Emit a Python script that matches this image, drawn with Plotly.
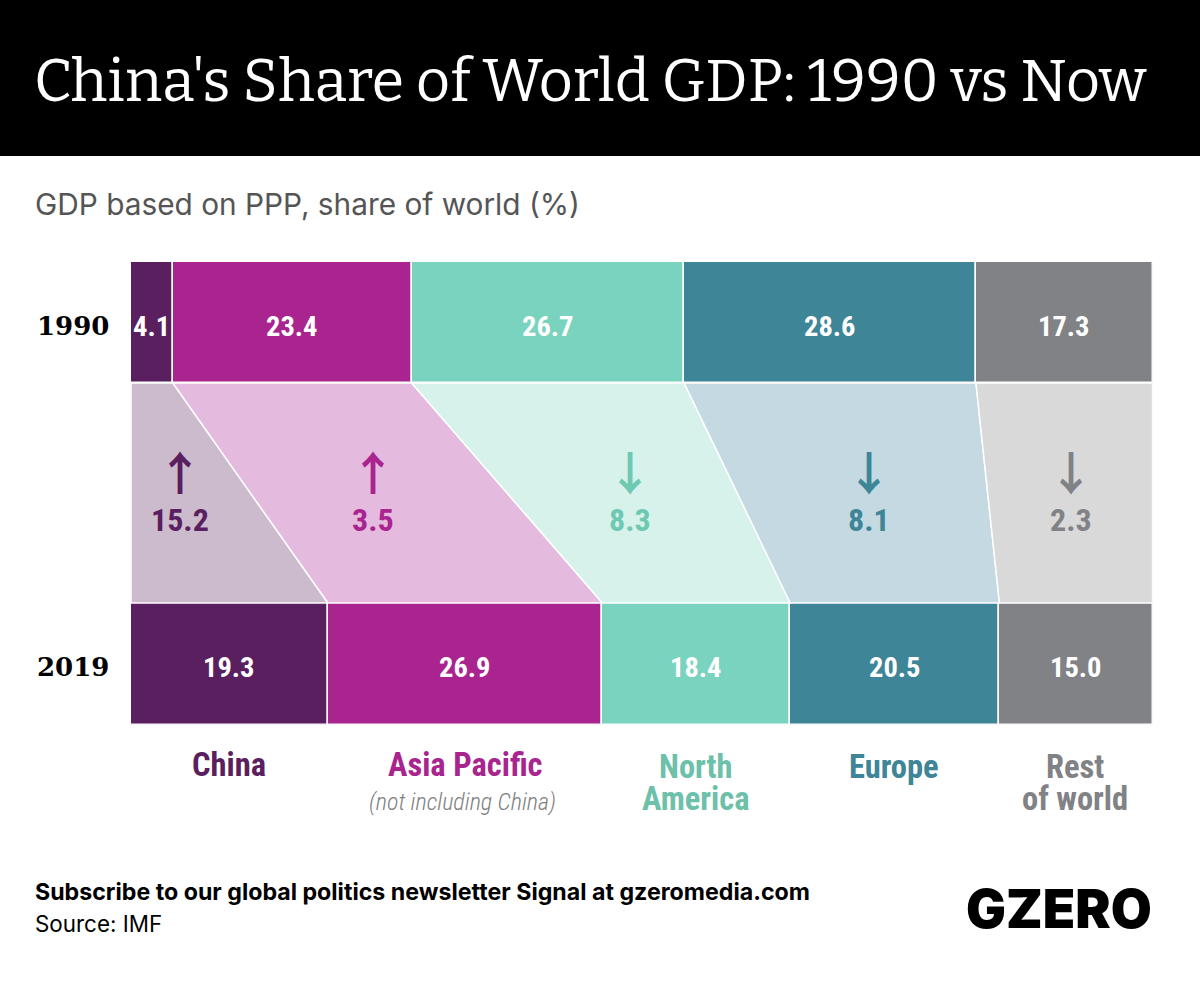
import plotly.graph_objects as go

regions = ["China", "Asia Pacific", "North America", "Europe", "Rest of world"]
share_1990 = [4.1, 23.4, 26.7, 28.6, 17.3]
share_2019 = [19.3, 26.9, 18.4, 20.5, 15.0]
changes = ["15.2", "3.5", "8.3", "8.1", "2.3"]
arrows = ["↑", "↑", "↓", "↓", "↓"]
years = ["1990", "2019"]

colors = ["#591f5e", "#a9248f", "#79d3be", "#3e8598", "#818285"]
pale = ["#ccbacd", "#e4bade", "#d7f1eb", "#c4d9e1", "#d9d9d9"]
change_colors = ["#591f5e", "#a9248f", "#6ec9b2", "#3e8598", "#818285"]
label_colors = ["#591f5e", "#a9248f", "#6dc0a9", "#3e8598", "#818285"]
label_x = [229, 465, 696, 894, 1075]  # pixels, centres of region names
change_x = [180, 373, 630, 869, 1071]

W, H = 1200, 982
X0, X1 = 131, 1152.5
Y_TOP, Y_BOT = 262, 724.5
slab = "Bitter, 'DejaVu Serif', serif"
narrow = "'Liberation Sans Narrow', 'Roboto Condensed', sans-serif"

fig = go.Figure()


def bar_label(x, y, value):
    # numbers sit a little under the middle of the bars
    fig.add_annotation(xref="x", yref="y", x=x, y=y, text=f"{value:.1f}", showarrow=False,
                       font=dict(family=narrow, size=28.5, color="white", weight="bold"))


# y axis: px from top of the chart, rows are 120 px with 220 px between
top = 0
bot = 0
for i, r in enumerate(regions):
    a0, a1 = top, round(top + share_1990[i], 1)
    b0, b1 = bot, round(bot + share_2019[i], 1)
    # band between the two years
    fig.add_trace(go.Scatter(
        x=[a0, a1, b1, b0, a0], y=[121, 121, 341, 341, 121],
        mode="lines", fill="toself", fillcolor=pale[i],
        line=dict(color="white", width=1.5), showlegend=False, hoverinfo="skip"))
    fig.add_trace(go.Bar(
        y=[60.5, 402], x=[share_1990[i], share_2019[i]], base=[a0, b0],
        orientation="h", width=121.5, name=r,
        marker=dict(color=colors[i], line=dict(color="white", width=1.5)),
        cliponaxis=False, showlegend=False))
    bar_label((a0 + a1) / 2, 64.5, share_1990[i])
    bar_label((b0 + b1) / 2, 405, share_2019[i])
    top = a1
    bot = b1

fig.update_xaxes(range=[0, max(top, bot)], domain=[X0 / W, X1 / W], visible=False, fixedrange=True)
fig.update_yaxes(range=[Y_BOT - Y_TOP, 0], domain=[1 - Y_BOT / H, 1 - Y_TOP / H], visible=False, fixedrange=True)


def note(x, y, text, size, color, family, anchor="center", weight="normal", style="normal"):
    fig.add_annotation(xref="paper", yref="paper", x=x / W, y=1 - y / H, text=text,
                       showarrow=False, xanchor=anchor, yanchor="middle",
                       font=dict(size=size, color=color, family=family, weight=weight, style=style))


fig.add_shape(type="rect", xref="paper", yref="paper", x0=0, x1=1, y0=1 - 156 / H, y1=1,
              fillcolor="black", line_width=0, layer="below")
note(32, 81, "China's Share of World GDP: 1990 vs Now", 59.15, "white", slab, "left")
note(32.5, 204, "GDP based on PPP, share of world (%)", 29.8, "#555555", "Inter", "left")
note(111, 326, years[0], 26, "black", "'DejaVu Serif'", "right", weight="bold")
note(111, 667, years[1], 26, "black", "'DejaVu Serif'", "right", weight="bold")

for i in range(5):
    note(change_x[i], 470, arrows[i], 46, change_colors[i], "'Noto Sans CJK SC'", weight="bold")
    note(change_x[i], 520, changes[i], 32, change_colors[i], narrow, weight="bold")

note(label_x[0], 765, "China", 32.5, label_colors[0], narrow, weight="bold")
note(label_x[1], 765, "Asia Pacific", 32.5, label_colors[1], narrow, weight="bold")
note(label_x[1] - 2, 802, "(not including China)", 24, "#808080", narrow, weight=300, style="italic")
note(label_x[2], 767, "North", 32.5, label_colors[2], narrow, weight="bold")
note(label_x[2], 799, "America", 32.5, label_colors[2], narrow, weight="bold")
note(label_x[3], 767, "Europe", 32.5, label_colors[3], narrow, weight="bold")
note(label_x[4], 767, "Rest", 32.5, label_colors[4], narrow, weight="bold")
note(label_x[4], 799, "of world", 32.5, label_colors[4], narrow, weight="bold")

note(32.5, 892, "Subscribe to our global politics newsletter Signal at gzeromedia.com", 23.2, "black", "Inter", "left", weight="bold")
note(32.5, 923, "Source: IMF", 22.4, "black", "Inter", "left")
note(1154, 909, "GZERO", 53, "black", "Inter", "right", weight=900)

fig.update_layout(
    width=W, height=H, barmode="overlay", bargap=0,
    margin=dict(l=0, r=0, t=0, b=0), autosize=False,
    paper_bgcolor="white", plot_bgcolor="white",
)

fig.write_html("out.html", config=dict(displayModeBar=False), post_script="document.body.style.margin='0';")
